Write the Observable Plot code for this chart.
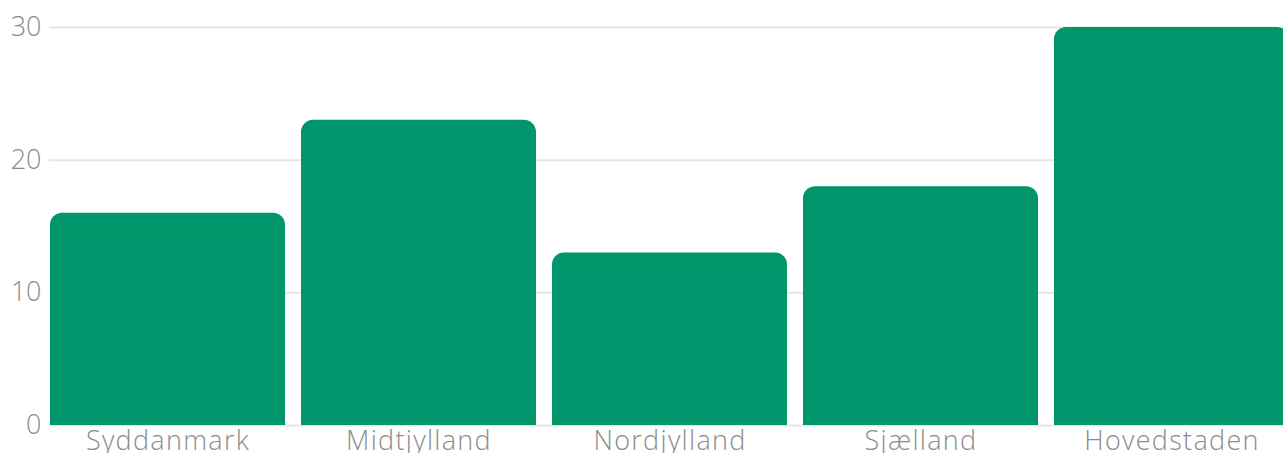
<!DOCTYPE html>
<html>
<head>
<meta charset="utf-8">
<script src="https://cdn.jsdelivr.net/npm/d3@7"></script>
<script src="https://cdn.jsdelivr.net/npm/@observablehq/plot@0.6"></script>
<style>
  html, body { margin: 0; padding: 0; background: #fff; overflow: hidden; }
  #chart svg { display: block; }
  #chart svg g[aria-label="x-axis tick label"] text { letter-spacing: 1.3px; }
</style>
</head>
<body>
<div id="chart"></div>
<script>
const regions = ["Syddanmark", "Midtjylland", "Nordjylland", "Sjælland", "Hovedstaden"];
const values = [16, 23, 13, 18, 30];
const yTicks = [0, 10, 20, 30];

const data = regions.map((r, i) => ({region: r, value: values[i]}));
const barColor = "#00956a";

const chart = Plot.plot({
  width: 1283,
  height: 453,
  marginTop: 27,
  marginBottom: 28,
  marginLeft: 49,
  marginRight: 0,
  style: {fontFamily: "'Open Sans', Lato, sans-serif", fontSize: "26px", fontWeight: 300, color: "#8c8c8c", background: "#fff", overflow: "hidden"},
  x: {domain: regions, range: [50, 1289], paddingInner: 0.0637, paddingOuter: 0, round: false, label: null},
  y: {domain: [0, 30], label: null},
  marks: [
    Plot.gridY(yTicks, {stroke: "#e6e6e6", strokeOpacity: 1, strokeWidth: 2}),
    Plot.barY(data, {x: "region", y: "value", fill: barColor, rx: 12}),
    Plot.barY(data, {x: "region", y: "value", fill: barColor, insetTop: 14}),
    Plot.axisY(yTicks, {tickSize: 0, tickPadding: 8, label: null, fill: "#8c8c8c", fontSize: 27}),
    Plot.axisX({tickSize: 0, tickPadding: 5, label: null, fill: "#8c8c8c", fontSize: 27})
  ]
});
document.getElementById("chart").appendChild(chart);
</script>
</body>
</html>
